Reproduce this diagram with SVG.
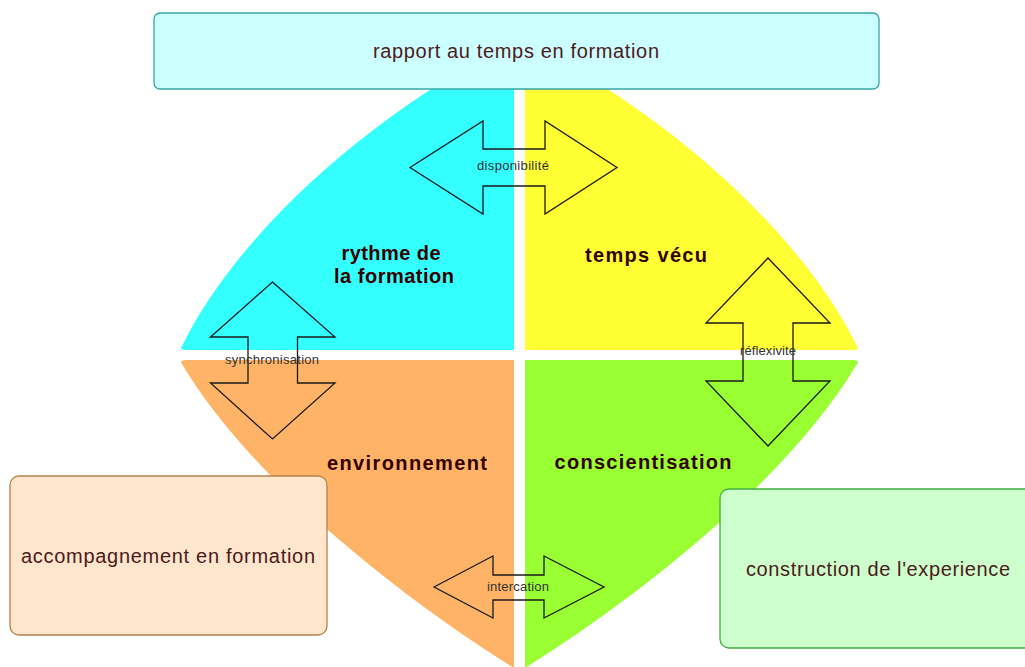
<svg xmlns="http://www.w3.org/2000/svg" width="1025" height="667" viewBox="0 0 1025 667">
<style>
.box{stroke-width:1.3}
.big{font-family:"Liberation Sans",Arial,sans-serif;font-size:20px;fill:#4d1a1a;text-anchor:middle}
.lab{font-family:"Liberation Sans",Arial,sans-serif;font-size:20px;font-weight:bold;fill:#330000;text-anchor:middle}
.arr{fill:none;stroke:#1a1a1a;stroke-width:1.3;stroke-linejoin:miter}
.sm{font-family:"Liberation Sans",Arial,sans-serif;font-size:13px;fill:#333333;text-anchor:middle}
</style>
<rect width="1025" height="667" fill="#ffffff"/>
<g id="q-rythme">
<path d="M514,350 L186,350 Q179,350 182,346 C240,228 380,108 514,42 Z" fill="#33ffff"/>
<text class="lab" x="391" y="260" textLength="99" lengthAdjust="spacing">rythme de</text>
<text class="lab" x="394" y="283" textLength="120" lengthAdjust="spacing">la formation</text>
</g>
<g id="q-temps">
<path d="M525,350 L853,350 Q860,350 857,346 C799,228 659,108 525,42 Z" fill="#ffff33"/>
<text class="lab" x="646" y="262" textLength="122" lengthAdjust="spacing">temps vécu</text>
</g>
<g id="q-environnement">
<path d="M514,360 L186,360 Q179,360 182,364 C249,477 397,595 514,668 Z" fill="#ffb366"/>
<text class="lab" x="407" y="470" textLength="160" lengthAdjust="spacing">environnement</text>
</g>
<g id="q-conscientisation">
<path d="M525,360 L853,360 Q860,360 857,364 C790,477 642,595 525,668 Z" fill="#99ff33"/>
<text class="lab" x="643" y="469" textLength="177" lengthAdjust="spacing">conscientisation</text>
</g>
<g id="connectors">
<g id="c-disponibilite">
<path class="arr" d="M410,167.5 L483,121 L483,149 L545,149 L545,121 L617,167.5 L545,214 L545,186 L483,186 L483,214 Z"/>
<text class="sm" x="513" y="170" textLength="72" lengthAdjust="spacing">disponibilité</text>
</g>
<g id="c-synchronisation">
<path class="arr" d="M272.5,282 L335,337 L297.5,337 L297.5,383 L335,383 L272.5,439 L210.5,383 L248,383 L248,337 L210.5,337 Z"/>
<text class="sm" x="272" y="364" textLength="94" lengthAdjust="spacing">synchronisation</text>
</g>
<g id="c-reflexivite">
<path class="arr" d="M768,258 L830,323 L793,323 L793,381 L830,381 L768,446 L706,381 L743,381 L743,323 L706,323 Z"/>
<text class="sm" x="768" y="355" textLength="56" lengthAdjust="spacing">réflexivite</text>
</g>
<g id="c-intercation">
<path class="arr" d="M434,587 L493,556 L493,575 L544,575 L544,556 L604,587 L544,618 L544,600 L493,600 L493,618 Z"/>
<text class="sm" x="518" y="591" textLength="62" lengthAdjust="spacing">intercation</text>
</g>
</g>
<g id="n-rapport">
<rect class="box" x="154" y="13" width="725" height="76" rx="6" fill="#ccffff" stroke="#36a6a6"/>
<text class="big" x="516" y="58" textLength="286" lengthAdjust="spacing">rapport au temps en formation</text>
</g>
<g id="n-accompagnement">
<rect class="box" x="10" y="476" width="317" height="159" rx="9" fill="#ffe6cc" stroke="#b5814e"/>
<text class="big" x="168" y="563" textLength="294" lengthAdjust="spacing">accompagnement en formation</text>
</g>
<g id="n-construction">
<rect class="box" x="720" y="489" width="320" height="159" rx="9" fill="#ccffcc" stroke="#3fae3f"/>
<text class="big" x="878" y="576" textLength="264" lengthAdjust="spacing">construction de l'experience</text>
</g>
</svg>
